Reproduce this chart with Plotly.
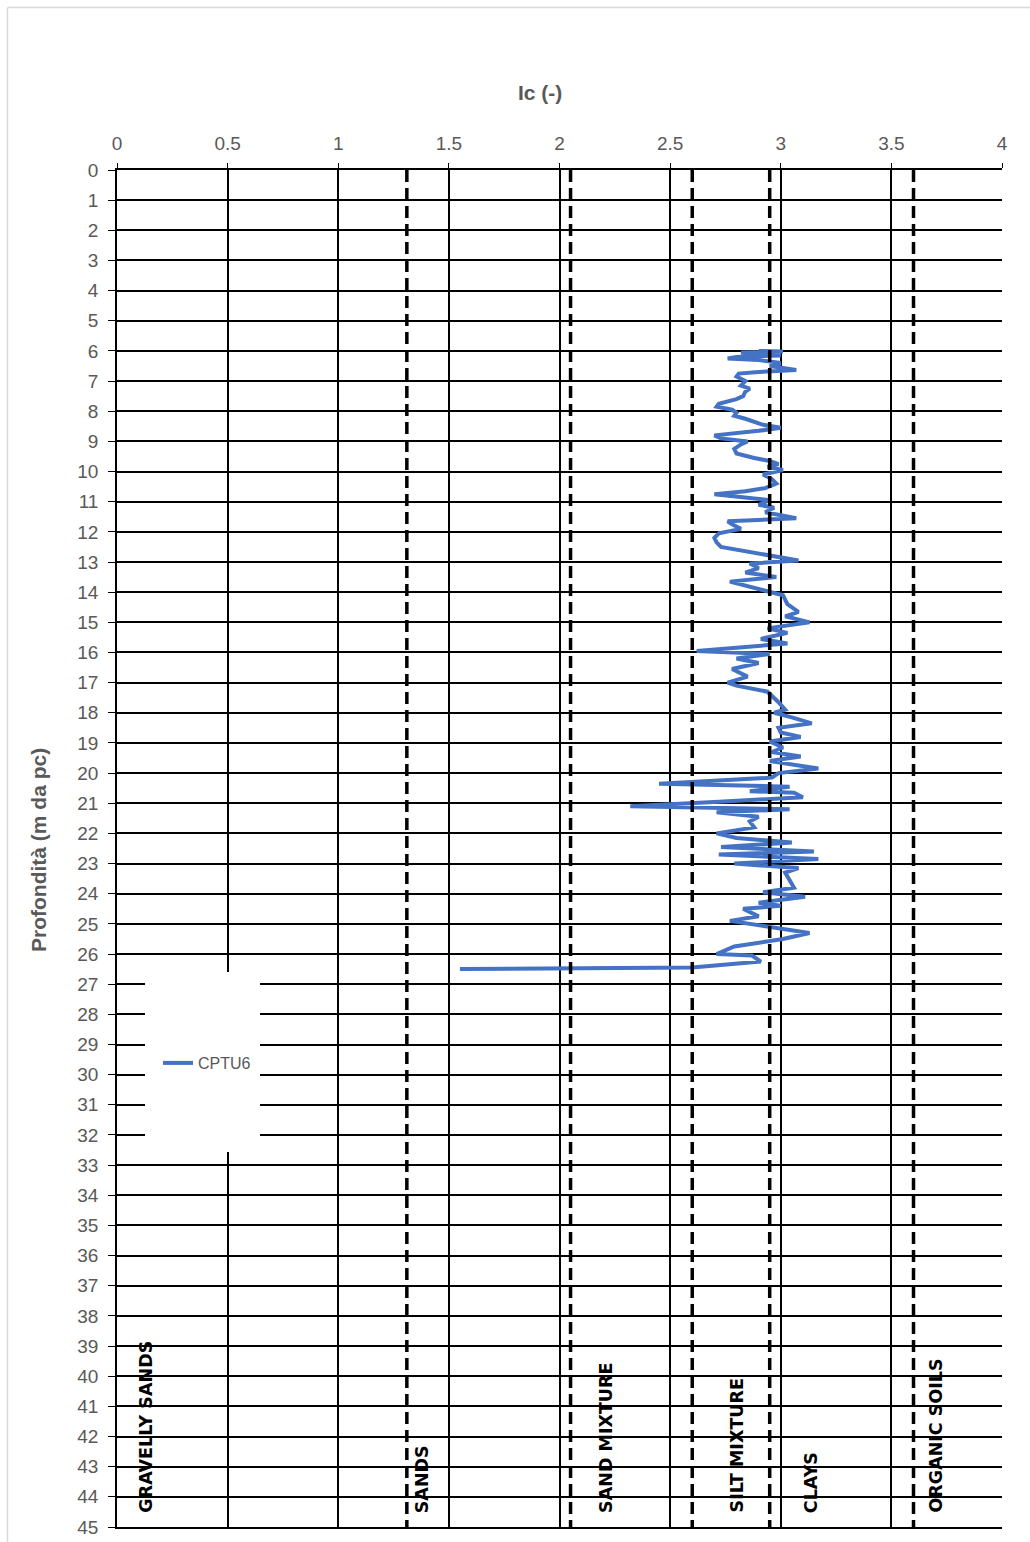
import plotly.graph_objects as go

# CPTU6 profile: depth (m) and Ic (-)
depth = [6.00, 6.02, 6.05, 6.10, 6.15, 6.20, 6.25, 6.30, 6.40, 6.50, 6.63, 6.70, 6.75, 6.85, 7.00,
         7.15, 7.25, 7.35, 7.50, 7.60, 7.75, 7.85, 7.95, 8.05, 8.15, 8.25, 8.35, 8.45, 8.55, 8.65,
         8.80, 8.90, 9.00, 9.10, 9.25, 9.40, 9.55, 9.65, 9.75, 9.85, 9.95, 10.10, 10.25, 10.40, 10.55,
         10.65, 10.75, 10.85, 10.95, 11.10, 11.20, 11.35, 11.55, 11.65, 11.75, 11.90, 12.05, 12.20, 12.35,
         12.50, 12.65, 12.80, 12.95, 13.05, 13.20, 13.35, 13.50, 13.65, 13.80, 13.95, 14.10, 14.40, 14.65,
         14.80, 15.00, 15.20, 15.35, 15.55, 15.70, 15.95, 16.05, 16.20, 16.35, 16.55, 16.80, 17.00, 17.10,
         17.30, 17.50, 17.65, 17.90, 18.00, 18.15, 18.35, 18.50, 18.65, 18.80, 18.95, 19.15, 19.30, 19.45,
         19.60, 19.85, 20.00, 20.15, 20.35, 20.45, 20.60, 20.65, 20.80, 20.95, 21.10, 21.20, 21.30, 21.45,
         21.60, 21.80, 22.00, 22.15, 22.30, 22.45, 22.60, 22.70, 22.85, 23.00, 23.15, 23.30, 23.55, 23.80,
         23.95, 24.10, 24.30, 24.40, 24.50, 24.75, 24.90, 25.30, 25.50, 25.75, 26.00, 26.05, 26.25, 26.45,
         26.50]
ic = [2.90, 3.01, 2.82, 2.95, 3.00, 2.80, 2.76, 2.90, 3.00, 2.95, 3.07, 2.90, 2.81, 2.80, 2.84,
      2.82, 2.86, 2.84, 2.83, 2.80, 2.72, 2.71, 2.78, 2.80, 2.79, 2.84, 2.88, 2.92, 3.00, 2.90,
      2.70, 2.73, 2.85, 2.82, 2.79, 2.80, 2.88, 2.95, 2.99, 2.94, 3.01, 2.92, 2.96, 2.98, 2.93,
      2.84, 2.70, 2.82, 2.95, 2.90, 2.97, 2.93, 3.07, 2.76, 2.78, 2.82, 2.72, 2.70, 2.71,
      2.73, 2.85, 2.95, 3.08, 2.86, 2.90, 2.84, 2.98, 2.77, 2.85, 2.93, 3.01, 3.03, 3.08,
      3.02, 3.13, 2.94, 3.03, 2.91, 3.03, 2.62, 2.95, 2.80, 2.90, 2.78, 2.85, 2.76, 2.80,
      2.94, 2.97, 2.99, 3.02, 2.97, 3.05, 3.14, 2.99, 3.00, 3.09, 2.95, 3.01, 2.96, 3.09,
      2.95, 3.17, 2.99, 2.96, 2.45, 3.04, 2.86, 3.06, 3.10, 2.72, 2.32, 3.04, 2.71, 2.90,
      2.86, 2.88, 2.71, 2.80, 3.05, 2.73, 3.15, 2.72, 3.17, 2.79, 3.08, 3.02, 3.04, 3.06,
      2.92, 3.11, 2.90, 3.00, 2.83, 2.90, 2.77, 3.13, 3.01, 2.79, 2.71, 2.87, 2.91, 2.60,
      1.55]

# Soil-behaviour boundaries (Ic) and zone labels
boundaries = [1.31, 2.05, 2.60, 2.95, 3.60]
zone_labels = ["GRAVELLY SANDS", "SANDS", "SAND MIXTURE", "SILT MIXTURE", "CLAYS", "ORGANIC SOILS"]
zone_label_x = [0.13, 1.38, 2.21, 2.80, 3.14, 3.70]

x_ticks = [0, 0.5, 1, 1.5, 2, 2.5, 3, 3.5, 4]
y_ticks = list(range(0, 46))

# page-pixel helpers (body margin removed below, so page px == figure px)
PL, PR, PT, PB = 117, 1002, 170, 1527
W, H = 1030, 1542


def px(v):
    return (v - PL) / (PR - PL)


def py(v):
    return (PB - v) / (PB - PT)


fig = go.Figure()

fig.add_trace(go.Scatter(x=ic, y=depth, mode="lines", name="CPTU6",
                         line=dict(color="#4472C4", width=4)))

for b in boundaries:
    fig.add_trace(go.Scatter(x=[b, b], y=[0, 45], mode="lines", showlegend=False,
                             hoverinfo="skip",
                             line=dict(color="black", width=3.5, dash="12px,6px")))

for lab, lx in zip(zone_labels, zone_label_x):
    fig.add_annotation(x=lx, y=44.6, xref="x", yref="y", text="<b>" + lab + "</b>",
                       textangle=-90, showarrow=False, yanchor="bottom", xanchor="center",
                       font=dict(family="DejaVu Sans", size=17.5, color="black"))

# white legend box
fig.add_shape(type="rect", xref="paper", yref="paper",
              x0=px(145), x1=px(260), y0=py(1152), y1=py(972),
              fillcolor="white", line=dict(width=0), layer="above")

# outer chart border (left and top)
fig.add_shape(type="line", xref="paper", yref="paper",
              x0=px(7.5), x1=px(7.5), y0=py(1542), y1=py(7.5),
              line=dict(width=1.5, color="#d9d9d9"), layer="below")
fig.add_shape(type="line", xref="paper", yref="paper",
              x0=px(7.5), x1=px(1030), y0=py(7.5), y1=py(7.5),
              line=dict(width=1.5, color="#d9d9d9"), layer="below")

fig.add_annotation(x=px(540), y=py(92), xref="paper", yref="paper",
                   text="<b>Ic (-)</b>", showarrow=False, xanchor="center", yanchor="middle",
                   font=dict(family="Liberation Sans", size=21, color="#595959"))
fig.add_annotation(x=px(38), y=py(850), xref="paper", yref="paper",
                   text="<b>Profondità (m da pc)</b>", showarrow=False, textangle=-90,
                   xanchor="center", yanchor="middle",
                   font=dict(family="Liberation Sans", size=21, color="#595959"))

fig.update_layout(
    width=W, height=H,
    margin=dict(l=PL, r=W - PR, t=PT, b=H - PB, autoexpand=False),
    paper_bgcolor="white", plot_bgcolor="white",
    font=dict(family="Liberation Sans", size=19, color="#595959"),
    showlegend=True,
    legend=dict(x=px(158), y=py(1063), xanchor="left", yanchor="middle",
                bgcolor="rgba(0,0,0,0)", font=dict(size=16, color="#595959")),
    xaxis=dict(side="top", range=[0, 4], tickvals=x_ticks, ticktext=[str(t) for t in x_ticks],
               showgrid=True, gridcolor="black", gridwidth=1.5, automargin=False,
               showline=True, linecolor="black", linewidth=1.5, mirror=True,
               ticks="outside", ticklen=5, tickcolor="black", zeroline=False,
               ticklabelstandoff=6),
    yaxis=dict(range=[45, 0], tickvals=y_ticks, ticktext=[str(t) for t in y_ticks],
               showgrid=True, gridcolor="black", gridwidth=1.5, automargin=False,
               showline=True, linecolor="black", linewidth=1.5,
               ticks="outside", ticklen=7, tickcolor="black", zeroline=False,
               ticklabelstandoff=6),
)

fig.write_html("out.html", config={"displayModeBar": False},
               post_script="document.body.style.margin='0';document.body.style.overflow='hidden';")
